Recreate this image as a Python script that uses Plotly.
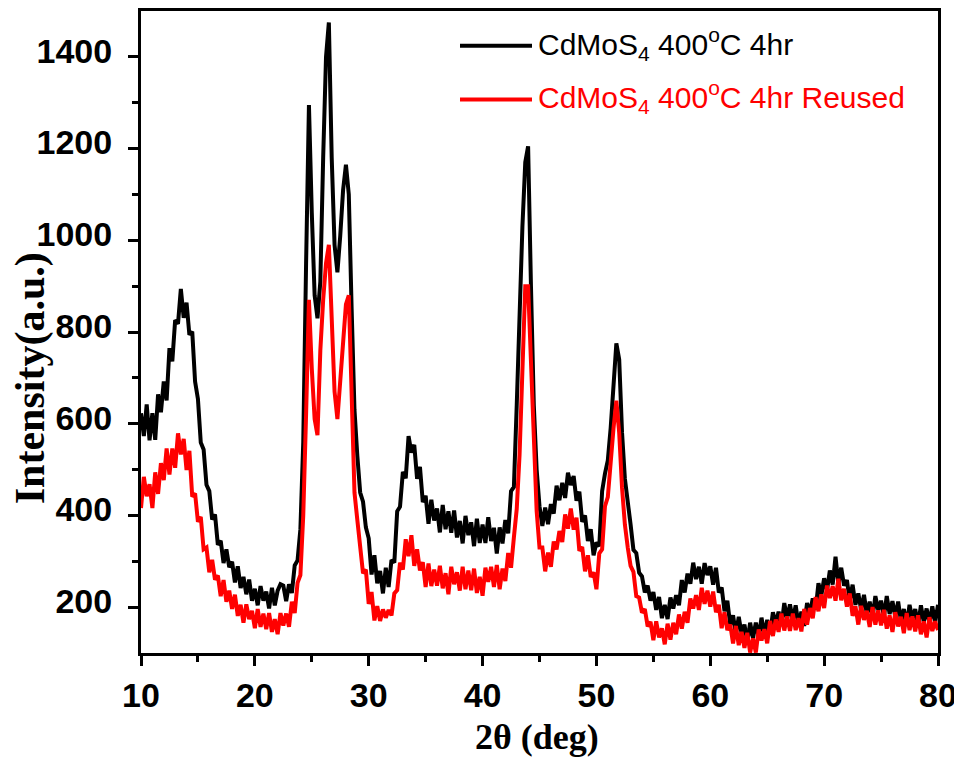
import plotly.graph_objects as go

# 2-theta sampling grid (instrument step 0.25 deg)
two_theta = [round(10 + 0.25 * i, 2) for i in range(281)]

# CdMoS4 400C 4hr (black)
intensity_fresh = [
    623, 573, 642, 564, 623, 565, 664, 625, 692, 651, 765, 736,
    826, 818, 894, 831, 864, 794, 801,
    692, 654, 559, 544, 467, 453, 391, 402, 336, 345,
    296, 326, 287, 299, 254, 289, 242, 266, 228, 260,
    214, 240, 204, 246, 214, 234, 197, 242, 204, 236,
    250, 247, 213, 250, 231, 291, 302,
    370, 560, 950, 1295, 1060, 880, 830, 910, 1180, 1400, 1475, 1180,
    990, 930, 1010, 1110, 1165, 1100, 850, 630, 530,
    450, 430, 374, 350, 271, 313, 252, 279, 230, 286,
    244, 303, 297, 409, 419, 495, 481, 573, 537, 554,
    480, 506, 429, 443, 382, 434, 389, 415, 363, 423,
    370, 409, 362, 411, 352, 388, 339, 399, 357, 385,
    333, 393, 340, 380, 340, 396, 344, 373, 317, 374,
    339, 390, 361, 453, 462,
    640, 870, 1030, 1170, 1205, 900, 640, 500, 420,
    377, 417, 381, 425, 404, 465, 433, 471, 438, 493,
    466, 486, 432, 452, 386, 400, 344, 370, 313, 341,
    333, 453, 491,
    520, 590, 670, 775, 740, 580, 480, 420, 380,
    325, 318, 275, 267, 232, 247, 214,
    233, 194, 222, 176, 205, 174, 221, 197, 226, 204,
    259, 232, 273, 251, 297, 261, 288, 251, 296, 270,
    289, 249, 286, 232, 243, 191, 214, 161, 182, 141,
    179, 142, 162, 124, 166, 132, 166, 136, 177, 139,
    172, 141, 189, 164, 190, 159, 209, 175, 206, 171,
    204, 161, 190, 159, 209, 187, 219, 194, 252, 225,
    263, 236, 280, 249, 310, 251, 286, 247, 259, 214,
    249, 205, 230, 194, 227, 184, 212, 178, 224, 194,
    214, 179, 224, 185, 213, 179, 212, 169, 196, 161,
    205, 175, 196, 160, 204, 167, 197, 165, 202, 166,
    205,
]

# CdMoS4 400C 4hr Reused (red)
intensity_reused = [
    416, 484, 442, 468, 416, 494, 447, 514, 477, 546, 489, 546,
    504, 579, 533, 567, 499, 541, 441,
    448, 386, 397, 326, 330, 276, 303, 260, 269, 224,
    259, 212, 236, 196, 227, 181, 205, 166, 206, 174,
    192, 154, 196, 157, 186, 152, 187, 146, 174, 141,
    187, 160, 186, 157, 212, 187, 253,
    270, 400, 620, 870, 720, 610, 575, 760, 870, 950, 990, 800,
    670, 610, 700, 800, 860, 880, 680, 450, 390,
    340, 274, 282, 207, 233, 171, 202, 170, 195, 177,
    194, 182, 230, 237, 297, 282, 348, 311, 357, 290,
    326, 280, 298, 244, 295, 246, 282, 247, 290, 241,
    274, 228, 288, 250, 276, 236, 288, 239, 280, 237,
    284, 231, 266, 225, 286, 255, 288, 244, 292, 239,
    284, 257, 318, 286, 352,
    414, 533, 750, 900, 900, 720, 530, 410, 330,
    330, 278, 319, 288, 343, 326, 366, 342, 402, 371,
    415, 369, 395, 323, 331, 278, 313, 266, 276, 239,
    317, 326, 420,
    440, 530, 590, 650, 580, 460, 380, 330, 290,
    277, 224, 221, 188, 196, 158, 168,
    128, 169, 134, 154, 119, 164, 129, 166, 141, 184,
    153, 190, 166, 219, 197, 226, 194, 242, 207, 236,
    201, 234, 189, 205, 154, 189, 150, 162, 121, 159,
    117, 146, 111, 144, 101, 132, 101, 151, 127, 152,
    121, 170, 137, 173, 146, 186, 149, 180, 148, 186,
    150, 176, 147, 196, 162, 198, 176, 222, 191, 228,
    198, 247, 220, 246, 214, 262, 215, 240, 201, 230,
    181, 202, 162, 203, 172, 192, 157, 200, 162, 193,
    160, 194, 153, 182, 146, 189, 158, 179, 143, 187,
    150, 180, 147, 182, 141, 169, 134, 178, 148, 169,
    150,
]

series_names = ["CdMoS<sub>4</sub> 400<sup>o</sup>C 4hr",
                "CdMoS<sub>4</sub> 400<sup>o</sup>C 4hr Reused"]
series_colors = ["#000000", "#FF0000"]
x_ticks = [10, 20, 30, 40, 50, 60, 70, 80]
x_minor = [15, 25, 35, 45, 55, 65, 75]
y_ticks = [200, 400, 600, 800, 1000, 1200, 1400]
y_minor = [300, 500, 700, 900, 1100, 1300]

fig = go.Figure()
fig.add_trace(go.Scatter(x=two_theta, y=intensity_fresh, mode="lines",
                         line=dict(color=series_colors[0], width=4),
                         name=series_names[0], showlegend=False))
fig.add_trace(go.Scatter(x=two_theta, y=intensity_reused, mode="lines",
                         line=dict(color=series_colors[1], width=4),
                         name=series_names[1], showlegend=False))

tickfont = dict(family="Liberation Sans, Arial", size=34, color="black", weight="bold")

fig.update_xaxes(range=[10, 80], tickvals=x_ticks, ticktext=[str(v) for v in x_ticks],
                 showline=True, linewidth=3, linecolor="black", mirror=True,
                 ticks="outside", ticklen=10, tickwidth=3, tickcolor="black",
                 minor=dict(ticks="outside", ticklen=6, tickwidth=3, tickcolor="black",
                            tickvals=x_minor),
                 showgrid=False, zeroline=False, tickfont=tickfont,
                 ticklabelstandoff=0)
fig.update_yaxes(range=[100, 1500], tickvals=y_ticks, ticktext=[str(v) for v in y_ticks],
                 showline=True, linewidth=3, linecolor="black", mirror=True,
                 ticks="outside", ticklen=10, tickwidth=3, tickcolor="black",
                 minor=dict(ticks="outside", ticklen=6, tickwidth=3, tickcolor="black",
                            tickvals=y_minor),
                 showgrid=False, zeroline=False, tickfont=tickfont,
                 ticklabelstandoff=9, ticklabelshift=-6)

# page body has an 8px margin; the figure starts at (8, 8) in the window
OFF = 8
W, H = 954, 753
L, R, T, B = 133, 24, 0, 108
pw, ph = W - L - R, H - T - B

def px(page_x):
    return (page_x - OFF - L) / pw

def py(page_y):
    return (H - B - (page_y - OFF)) / ph

annotations = [
    dict(text="Intensity(a.u.)", x=px(30), y=py(377), xref="paper", yref="paper",
         textangle=-90, showarrow=False, xanchor="center", yanchor="middle",
         font=dict(family="Liberation Serif, Times New Roman", size=42, color="black", weight="bold")),
    dict(text="2θ (deg)", x=px(537), y=py(737), xref="paper", yref="paper",
         showarrow=False, xanchor="center", yanchor="middle",
         font=dict(family="Liberation Serif, Times New Roman", size=36, color="black", weight="bold")),
    dict(text=series_names[0], x=px(536), y=py(41), xref="paper", yref="paper",
         showarrow=False, xanchor="left", yanchor="middle",
         font=dict(family="Liberation Sans, Arial", size=30, color=series_colors[0])),
    dict(text=series_names[1], x=px(536), y=py(94), xref="paper", yref="paper",
         showarrow=False, xanchor="left", yanchor="middle",
         font=dict(family="Liberation Sans, Arial", size=30, color=series_colors[1])),
]
shapes = [
    dict(type="line", xref="paper", yref="paper", x0=px(460), x1=px(532), y0=py(43), y1=py(43),
         line=dict(color=series_colors[0], width=4)),
    dict(type="line", xref="paper", yref="paper", x0=px(460), x1=px(532), y0=py(97), y1=py(97),
         line=dict(color=series_colors[1], width=4)),
]

fig.update_layout(width=W, height=H, margin=dict(l=L, r=R, t=T, b=B),
                  plot_bgcolor="white", paper_bgcolor="white",
                  annotations=annotations, shapes=shapes, showlegend=False)

fig.write_html("out.html", config={"displayModeBar": False})
